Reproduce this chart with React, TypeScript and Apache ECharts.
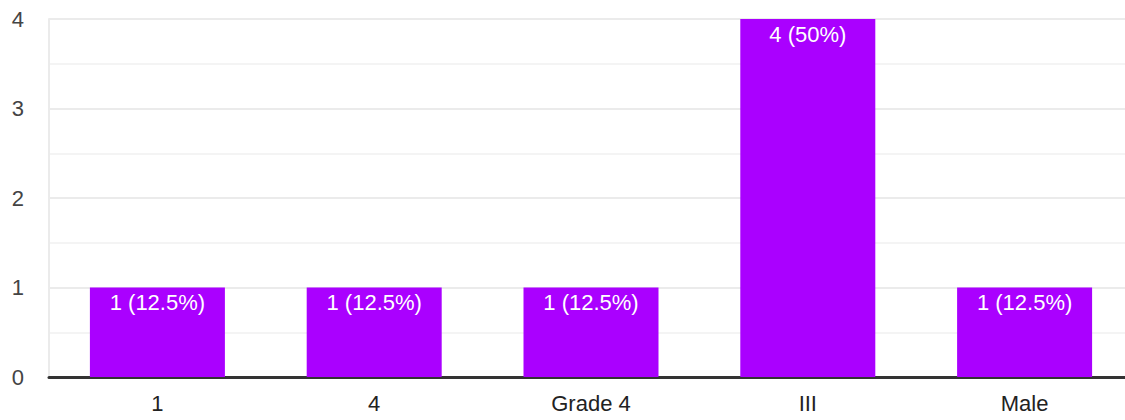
import React, { useEffect, useRef } from "react";
import * as echarts from "echarts";

const categories = ["1", "4", "Grade 4", "III", "Male"];
const counts = [1, 1, 1, 4, 1];
const percents = ["12.5%", "12.5%", "12.5%", "50%", "12.5%"];

const FONT = "Liberation Sans, Arial, sans-serif";

export default function App() {
  const ref = useRef<HTMLDivElement>(null);
  useEffect(() => {
    const chart = echarts.init(ref.current!, null, { renderer: "svg" });
    chart.setOption({
      animation: false,
      grid: { left: 49, right: 0, top: 19, bottom: 43, containLabel: false },
      xAxis: {
        type: "category",
        data: categories,
        axisLine: { show: true, lineStyle: { color: "#333333", width: 3 } },
        axisTick: { show: false },
        axisLabel: {
          color: "#222222",
          fontSize: 22,
          fontFamily: FONT,
          margin: 15,
        },
        splitLine: { show: false },
      },
      yAxis: {
        type: "value",
        min: 0,
        max: 4,
        interval: 0.5,
        axisLine: { show: true, lineStyle: { color: "#ebebeb", width: 2 } },
        axisTick: { show: false },
        axisLabel: {
          color: "#444444",
          fontSize: 22,
          fontFamily: FONT,
          margin: 25,
          formatter: (v: number) => (Number.isInteger(v) ? String(v) : ""),
        },
        splitLine: {
          show: true,
          lineStyle: { color: ["#ebebeb", "#f4f4f4"], width: 2 },
        },
      },
      series: [
        {
          type: "bar",
          data: counts,
          barWidth: 135,
          itemStyle: { color: "#aa00ff" },
          label: {
            show: true,
            position: "insideTop",
            distance: 4,
            color: "#ffffff",
            fontSize: 22,
            fontFamily: FONT,
            formatter: (p: any) => `${counts[p.dataIndex]} (${percents[p.dataIndex]})`,
          },
        },
      ],
    });
    return () => chart.dispose();
  }, []);
  return (
    <div
      style={{
        position: "fixed",
        left: 0,
        top: 0,
        width: 1125,
        height: 420,
        overflow: "hidden",
        background: "#fff",
      }}
    >
      <div ref={ref} style={{ width: 1133, height: 420 }} />
    </div>
  );
}
